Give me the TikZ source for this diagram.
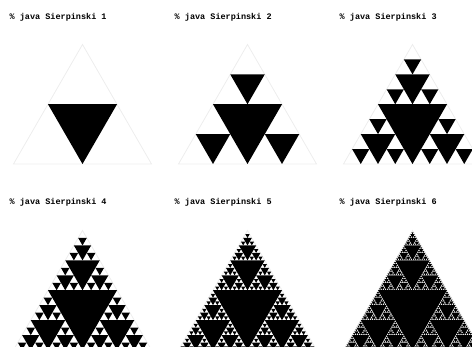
\documentclass[tikz,border=0pt]{standalone}
\usepackage{fontspec}
\setmonofont{Liberation Mono}
% order, x of bottom tip, y of bottom tip, side
\newcommand\sierp[4]{%
  \ifnum#1>0\relax
    \begingroup
    \pgfmathsetmacro\halfside{#4/2}%
    \pgfmathsetmacro\rise{0.8660254*#4}%
    \fill (#2,#3) -- ++(-\halfside,-\rise) -- ++(#4,0) -- cycle;
    \pgfmathsetmacro\xleft{#2-\halfside}%
    \pgfmathsetmacro\xright{#2+\halfside}%
    \pgfmathsetmacro\ytop{#3-\rise}%
    \pgfmathtruncatemacro\lower{#1-1}%
    \edef\next{\noexpand\sierp{\lower}{\xleft}{#3}{\halfside}%
      \noexpand\sierp{\lower}{\xright}{#3}{\halfside}%
      \noexpand\sierp{\lower}{#2}{\ytop}{\halfside}}%
    \expandafter\endgroup\next
  \fi}
\begin{document}
\begin{tikzpicture}[x=1pt, y=-1pt,
    outline/.style={draw=black!7, line width=0.8pt},
    cmd/.style={anchor=west, inner sep=0pt, font=\fontsize{8.5}{10}\selectfont\ttfamily\bfseries}]
\useasboundingbox (0,0) rectangle (472,347);
\clip (0,0) rectangle (472,347);
\foreach \n/\cx/\by/\ly in {1/82.5/164/17, 2/247.5/164/17, 3/412.5/164/17,
    4/82.5/350/202, 5/247.5/350/202, 6/412.5/350/202}{
  \node[cmd] (cmd\n) at (\cx-73,\ly) {\% java Sierpinski \n};
  \draw[outline] (\cx-69,\by) -- (\cx+69,\by) -- (\cx,\by-119.5) -- cycle;
  \sierp{\n}{\cx}{\by}{69}
}
\end{tikzpicture}
\end{document}
